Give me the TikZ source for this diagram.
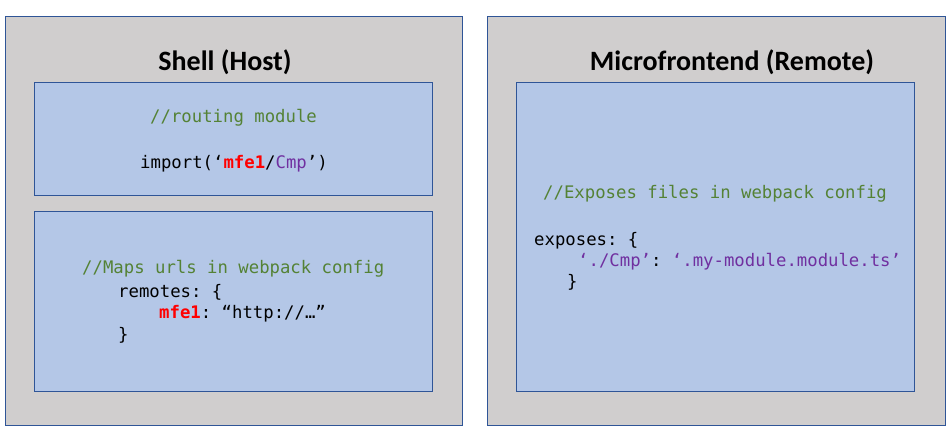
\documentclass[tikz,border=0pt]{standalone}
\usepackage{fontspec}
\setmainfont{Carlito}
\setmonofont{DejaVu Sans Mono}
\usepackage{tikz}
\usetikzlibrary{positioning}
\definecolor{shellgray}{HTML}{D0CECE}
\definecolor{boxline}{HTML}{2F5597}
\definecolor{codebox}{HTML}{B4C7E7}
\definecolor{cgreen}{HTML}{548235}
\definecolor{cred}{HTML}{FF0000}
\definecolor{cpurple}{HTML}{7030A0}
\tikzset{
  % outer gray panel and inner code block
  panel/.style = {rectangle, draw=boxline, fill=shellgray, line width=0.9pt,
                  inner sep=0pt, anchor=north west},
  codeblk/.style = {rectangle, draw=boxline, fill=codebox, line width=0.9pt,
                  inner sep=0pt, anchor=north west},
  title/.style = {font=\fontsize{28}{32}\selectfont\bfseries, inner sep=0pt, anchor=base},
  code/.style  = {font=\fontsize{17.3}{20}\selectfont\ttfamily, inner sep=0pt, anchor=base west},
}
\newcommand{\cmt}[1]{\textcolor{cgreen}{#1}}
\newcommand{\rd}[1]{\textcolor{cred}{\bfseries #1}}
\newcommand{\pp}[1]{\textcolor{cpurple}{#1}}

\begin{document}
\begin{tikzpicture}[x=1pt,y=-1pt]
\useasboundingbox (0,0) rectangle (952,434);
% panels
\node[panel, minimum width=457pt, minimum height=409pt] (shell) at (5,16) {};
\node[panel, minimum width=458pt, minimum height=409pt] (mfe) at (487,16) {};
\node[title] (shelltitle) at (225,70) {Shell (Host)};
\node[title] (mfetitle) at (732,70) {Microfrontend (Remote)};
% host blocks
\node[codeblk, minimum width=398pt, minimum height=113pt] (routing) at (34,82) {};
\node[codeblk, minimum width=398pt, minimum height=180pt] (remotes) at (34,211) {};
\node[code] (rcmt) at (150,122) {\cmt{//routing module}};
\node[code] (rimport) at (140,168) {import(‘\rd{mfe1}/\pp{Cmp}’)};
\node[code] (mcmt) at (82,273) {\cmt{//Maps urls in webpack config}};
\node[code] (mopen) at (118,297) {remotes: \{};
\node[code] (mentry) at (159,318) {\rd{mfe1}: “http://…”};
\node[code] (mclose) at (118,340) {\}};
% remote block
\node[codeblk, minimum width=398pt, minimum height=309pt] (exposes) at (516,82) {};
\node[code] (ecmt) at (543,198) {\cmt{//Exposes files in webpack config}};
\node[code] (eopen) at (534,245) {exposes: \{};
\node[code] (eentry) at (578,266) {\pp{‘./Cmp’}: \pp{‘.my-module.module.ts’}};
\node[code] (eclose) at (567,287) {\}};
\end{tikzpicture}
\end{document}
